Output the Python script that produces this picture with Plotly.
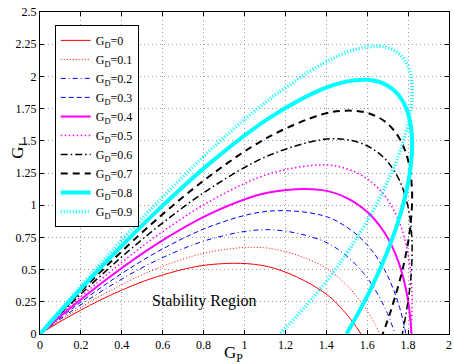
import plotly.graph_objects as go

# Shared Gp grid (same sample positions for every curve)
gp_grid = [0, 0.0397, 0.1558, 0.3388, 0.5739, 0.8415, 1.1184, 1.3796, 1.4962, 1.5993,
           1.6858, 1.7529, 1.7980, 1.8186, 1.8127, 1.7787, 1.7151, 1.6211, 1.4962, 1.3403]

gd_values = [0, 0.1, 0.2, 0.3, 0.4, 0.5, 0.6, 0.7, 0.8, 0.9]

gi_gd00 = [0, 0.0392, 0.1474, 0.2971, 0.4459, 0.5403, 0.5218, 0.3331, 0.1592]
gi_gd01 = [0, 0.0432, 0.1634, 0.3331, 0.5099, 0.6403, 0.6658, 0.5291, 0.3842, 0.1813]
gi_gd02 = [0, 0.0472, 0.1794, 0.3691, 0.5739, 0.7403, 0.8098, 0.7251, 0.6092, 0.4373, 0.2057]
gi_gd03 = [0, 0.0512, 0.1954, 0.4051, 0.6379, 0.8403, 0.9538, 0.9211, 0.8342, 0.6933, 0.4947, 0.2359]
gi_gd04 = [0, 0.0552, 0.2114, 0.4411, 0.7019, 0.9403, 1.0978, 1.1171, 1.0592, 0.9493, 0.7837, 0.5599, 0.2769]
gi_gd05 = [0, 0.0592, 0.2274, 0.4771, 0.7659, 1.0403, 1.2418, 1.3131, 1.2842, 1.2053, 1.0727, 0.8839, 0.6379, 0.3354]
gi_gd06 = [0, 0.0632, 0.2434, 0.5131, 0.8299, 1.1403, 1.3858, 1.5091, 1.5092, 1.4613, 1.3617, 1.2079, 0.9989, 0.7354, 0.4196, 0.0557]
gi_gd07 = [0, 0.0672, 0.2594, 0.5491, 0.8939, 1.2403, 1.5298, 1.7051, 1.7342, 1.7173, 1.6507, 1.5319, 1.3599, 1.1354, 0.8606, 0.5397, 0.1784]
gi_gd08 = [0, 0.0712, 0.2754, 0.5851, 0.9579, 1.3403, 1.6738, 1.9011, 1.9592, 1.9733, 1.9397, 1.8559, 1.7209, 1.5354, 1.3016, 1.0237, 0.7074, 0.3606]
gi_gd09 = [0, 0.0752, 0.2914, 0.6211, 1.0219, 1.4403, 1.8178, 2.0971, 2.1842, 2.2293, 2.2287, 2.1799, 2.0819, 1.9354, 1.7426, 1.5077, 1.2364, 0.9366, 0.6179, 0.2914]

# Gp where each curve meets GI = 0
gp_end = [1.5708, 1.6626, 1.7364, 1.7891, 1.8168, 1.8138, 1.7714, 1.6755, 1.4989, 1.1728]

x_ticks = [0, 0.2, 0.4, 0.6, 0.8, 1, 1.2, 1.4, 1.6, 1.8, 2]
x_labels = ["0", "0.2", "0.4", "0.6", "0.8", "1", "1.2", "1.4", "1.6", "1.8", "2"]
y_ticks = [0, 0.25, 0.5, 0.75, 1, 1.25, 1.5, 1.75, 2, 2.25, 2.5]
y_labels = ["0", "0.25", "0.5", "0.75", "1", "1.25", "1.5", "1.75", "2", "2.25", "2.5"]

gi_all = [gi_gd00, gi_gd01, gi_gd02, gi_gd03, gi_gd04, gi_gd05, gi_gd06, gi_gd07, gi_gd08, gi_gd09]

styles = [
    dict(color="#ff0000", width=1, dash="solid"),
    dict(color="#ff0000", width=1, dash="1px,2px"),
    dict(color="#0000ff", width=1, dash="5px,3px,1px,3px"),
    dict(color="#0000ff", width=1, dash="5px,3px"),
    dict(color="#ff00ff", width=2, dash="solid"),
    dict(color="#ff00ff", width=1.5, dash="1.5px,2.5px"),
    dict(color="#000000", width=1.5, dash="7px,3px,1.5px,3px"),
    dict(color="#000000", width=2, dash="7px,5px"),
    dict(color="#00ffff", width=4, dash="solid"),
    dict(color="#00ffff", width=3.5, dash="1px,2px"),
]

font_family = "Liberation Serif, Times New Roman, serif"

fig = go.Figure()
for gd, gi, xe, st in zip(gd_values, gi_all, gp_end, styles):
    xs = gp_grid[:len(gi)] + [xe]
    ys = gi + [0]
    fig.add_trace(go.Scatter(
        x=xs, y=ys, mode="lines",
        line=dict(color=st["color"], width=st["width"], dash=st["dash"], shape="spline", smoothing=1.0),
        name="G<sub>D</sub>=%g" % gd,
    ))

axis_common = dict(
    showline=True, linecolor="black", linewidth=1, mirror="ticks",
    ticks="inside", ticklen=4, tickcolor="black",
    showgrid=True, gridcolor="#9a9a9a", griddash="1px,3px", gridwidth=1,
    zeroline=False, automargin=False,
    tickfont=dict(family=font_family, size=12, color="black"),
)

fig.update_xaxes(range=[0, 2], tickmode="array", tickvals=x_ticks, ticktext=x_labels, **axis_common)
fig.update_yaxes(range=[0, 2.5], tickmode="array", tickvals=y_ticks, ticktext=y_labels, **axis_common)

fig.add_annotation(text="G<sub>P</sub>", xref="paper", yref="paper", x=0.474, y=-0.062,
                   xanchor="center", yanchor="middle", showarrow=False,
                   font=dict(family=font_family, size=17, color="black"))
fig.add_annotation(text="G<sub>I</sub>", xref="paper", yref="y", x=-0.05, y=1.42,
                   xanchor="center", yanchor="middle", showarrow=False, textangle=-90,
                   font=dict(family=font_family, size=17, color="black"))
fig.add_annotation(text="Stability Region", xref="x", yref="y", x=0.80, y=0.257,
                   showarrow=False, font=dict(family=font_family, size=16, color="black"))

fig.update_layout(
    width=454, height=364,
    margin=dict(l=40, r=5, t=12, b=30),
    paper_bgcolor="white", plot_bgcolor="white",
    showlegend=True,
    legend=dict(x=0.036, y=0.96, xanchor="left", yanchor="top",
                bgcolor="white", bordercolor="black", borderwidth=1,
                font=dict(family=font_family, size=12, color="black"),
                tracegroupgap=0, itemwidth=30),
)

fig.write_html("out.html", config={"displayModeBar": False},
               post_script="document.body.style.margin='0px';document.body.style.overflow='hidden';")
